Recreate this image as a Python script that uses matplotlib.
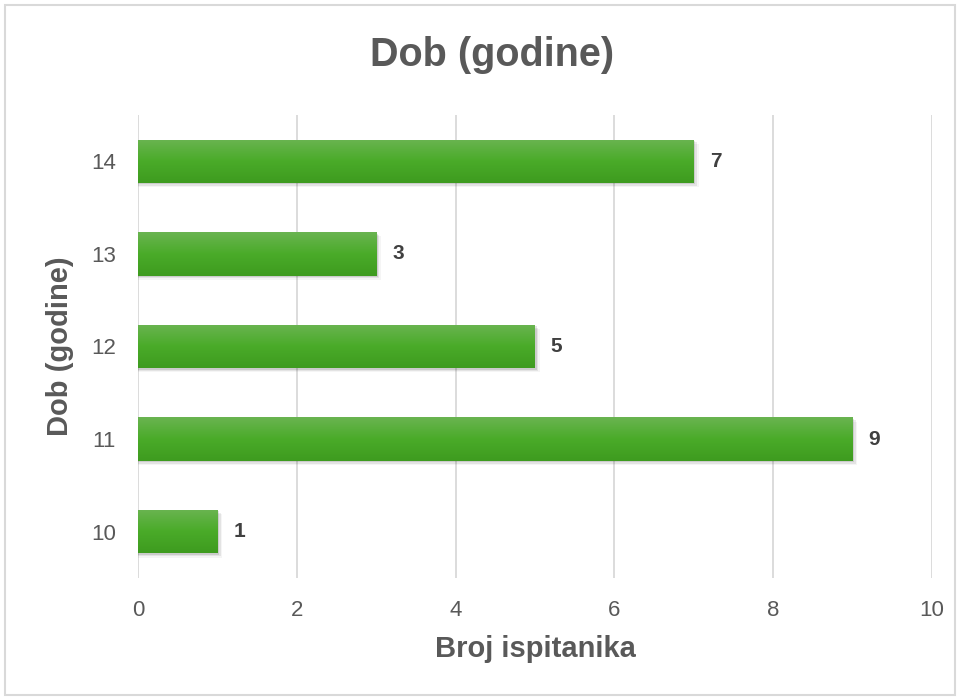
import matplotlib
matplotlib.use("Agg")
import matplotlib.pyplot as plt
import numpy as np
from matplotlib.patches import Rectangle
from matplotlib.colors import LinearSegmentedColormap

categories = ["10", "11", "12", "13", "14"]
values = [1, 9, 5, 3, 7]
xticks = [0, 2, 4, 6, 8, 10]

title = "Dob (godine)"
xlabel = "Broj ispitanika"
ylabel = "Dob (godine)"

plt.rcParams['font.family'] = ['Liberation Sans', 'DejaVu Sans']

fig = plt.figure(figsize=(9.61, 7.0), dpi=100)
ax = fig.add_axes([0.1436, 0.1743, 0.8262, 0.6614])

# figure border
fig.patches.append(Rectangle((5/961, 5/700), 950/961, 690/700, transform=fig.transFigure,
                             fill=False, edgecolor="#d9d9d9", linewidth=1.5))

cmap = LinearSegmentedColormap.from_list("g", ["#3e9b1f", "#4aab29", "#6ab451"])
grad = np.linspace(0, 1, 256).reshape(-1, 1)
h = 0.47
ys = np.arange(len(categories))
for y, v in zip(ys, values):
    # shadow
    for k, a in enumerate([0.10, 0.07, 0.04]):
        off = 0.015 * (k + 1)
        ax.add_patch(Rectangle((0.0, y - h/2 - off), v + 0.02*(k+1), h, facecolor="black",
                               alpha=a, edgecolor="none", zorder=2))
    bar = ax.barh(y, v, height=h, color="none", edgecolor="none", zorder=3)[0]
    im = ax.imshow(grad, extent=[0, v, y - h/2, y + h/2], aspect="auto", cmap=cmap,
                   origin="lower", zorder=3)
    im.set_clip_path(bar)
    ax.text(v + 0.2, y, str(v), va="center", ha="left", fontsize=15, fontweight="bold",
            color="#404040", zorder=4)

ax.set_xlim(0, 10)
ax.set_ylim(-0.5, 4.5)
ax.set_xticks(xticks)
ax.set_xticklabels([str(t) for t in xticks])
ax.set_yticks(ys)
ax.set_yticklabels(categories)
ax.tick_params(axis="both", length=0, labelsize=16, labelcolor="#595959")
ax.tick_params(axis="y", pad=16)
ax.tick_params(axis="x", pad=16)
ax.grid(axis="x", color="#d9d9d9", linewidth=1.3, zorder=0)
ax.set_axisbelow(True)
for s in ax.spines.values():
    s.set_visible(False)

ax.set_xlabel(xlabel, fontsize=21, fontweight="bold", color="#595959", labelpad=10)
ax.set_ylabel(ylabel, fontsize=21, fontweight="bold", color="#595959", labelpad=12)
fig.text(492/961, 1 - 55/700, title, ha="center", va="center", fontsize=28.5,
         fontweight="bold", color="#595959")

fig.savefig("out.png", dpi=100)
